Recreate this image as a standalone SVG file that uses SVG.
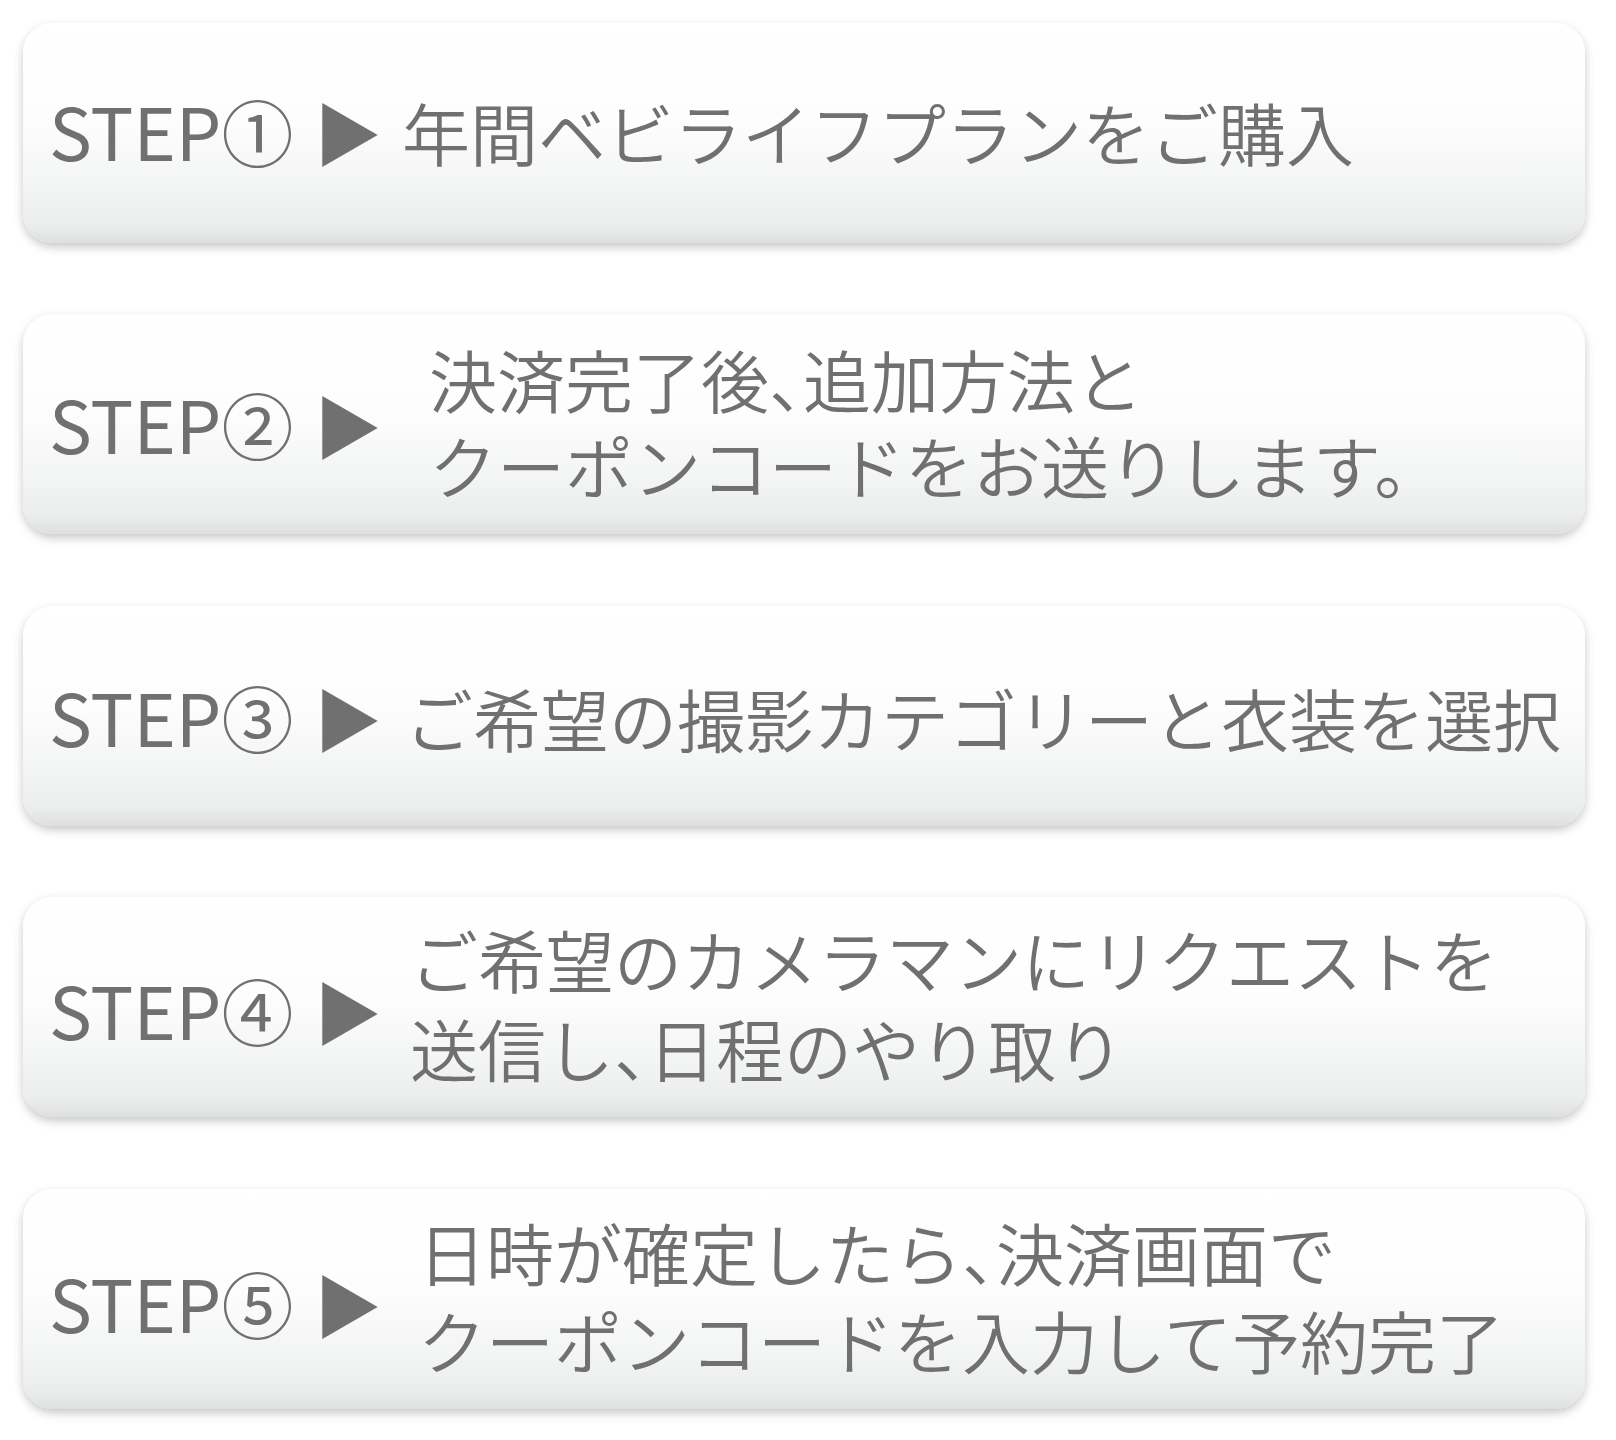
<svg xmlns="http://www.w3.org/2000/svg" width="1616" height="1440" viewBox="0 0 1616 1440">
<style>
.box{fill:url(#g);filter:url(#sh)}
.t{font-family:"Noto Sans CJK JP","Noto Sans",sans-serif;fill:#707070;font-size:68px;font-weight:350}
.s{font-family:"Noto Sans CJK JP","Noto Sans",sans-serif;fill:#707070;font-size:72px;font-weight:400}
.a{font-family:"Noto Sans CJK JP","DejaVu Sans",sans-serif;fill:#707070;font-size:68px}
.h{font-feature-settings:"halt"}
</style>
<defs>
<linearGradient id="g" x1="0" y1="0" x2="0" y2="1">
<stop offset="0" stop-color="#ffffff"/>
<stop offset="0.45" stop-color="#fdfdfd"/>
<stop offset="0.75" stop-color="#f3f4f4"/>
<stop offset="0.92" stop-color="#ebecec"/>
<stop offset="1" stop-color="#dedfdf"/>
</linearGradient>
<filter id="sh" x="-5%" y="-20%" width="110%" height="140%">
<feDropShadow dx="0" dy="4" stdDeviation="5" flood-color="#000" flood-opacity="0.22"/>
</filter>
</defs>
<rect width="1616" height="1440" fill="#ffffff"/>
<g id="step1">
<rect class="box" x="23" y="23" width="1562" height="220" rx="30"/>
<text class="s" x="49" y="161">STEP①</text>
<text class="a" x="314" y="161">▶</text>
<text class="t" x="402" y="161">年間ベビライフプランをご購入</text>
</g>
<g id="step2">
<rect class="box" x="23" y="314" width="1562" height="220" rx="30"/>
<text class="s" x="49" y="454">STEP②</text>
<text class="a" x="314" y="454">▶</text>
<text class="t" x="429" y="408">決済完了後<tspan class="h">、</tspan>追加方法と</text>
<text class="t" x="429" y="494">クーポンコードをお送りします。</text>
</g>
<g id="step3">
<rect class="box" x="23" y="606" width="1562" height="220" rx="30"/>
<text class="s" x="49" y="747">STEP③</text>
<text class="a" x="314" y="747">▶</text>
<text class="t" x="405" y="747">ご希望の撮影カテゴリーと衣装を選択</text>
</g>
<g id="step4">
<rect class="box" x="23" y="897" width="1562" height="220" rx="30"/>
<text class="s" x="49" y="1040">STEP④</text>
<text class="a" x="314" y="1040">▶</text>
<text class="t" x="410" y="988">ご希望のカメラマンにリクエストを</text>
<text class="t" x="410" y="1077">送信し<tspan class="h">、</tspan>日程のやり取り</text>
</g>
<g id="step5">
<rect class="box" x="23" y="1189" width="1562" height="220" rx="30"/>
<text class="s" x="49" y="1333">STEP⑤</text>
<text class="a" x="314" y="1333">▶</text>
<text class="t" x="418" y="1281">日時が確定したら<tspan class="h">、</tspan>決済画面で</text>
<text class="t" x="418" y="1369">クーポンコードを入力して予約完了</text>
</g>
<g id="connectors"/>
</svg>
